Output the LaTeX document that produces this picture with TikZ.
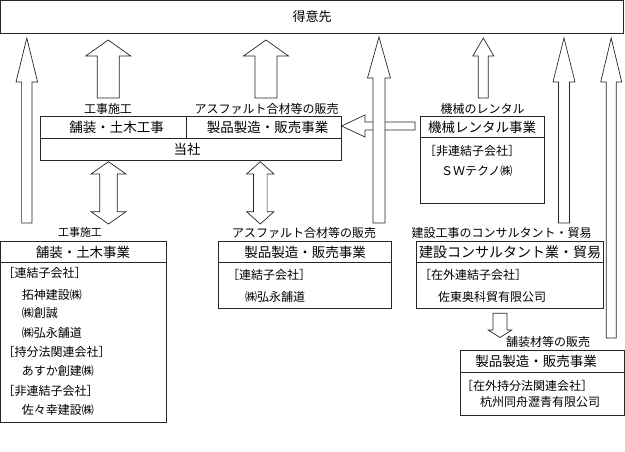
\documentclass[tikz,border=0pt]{standalone}
\usepackage{fontspec}
\setmainfont{Noto Sans CJK JP}
\newcommand\UpArr[6]{% cx, tip y, head base y, bottom y, shaft half, head half
  \draw[arr] (#1-#5,#4) -- (#1-#5,#3) -- (#1-#6,#3) -- (#1,#2) -- (#1+#6,#3) -- (#1+#5,#3) -- (#1+#5,#4) -- cycle;}
\newcommand\DblArr[7]{% cx, top tip, top base, bottom base, bottom tip, shaft half, head half
  \draw[arr] (#1,#2) -- (#1+#7,#3) -- (#1+#6,#3) -- (#1+#6,#4) -- (#1+#7,#4) -- (#1,#5) -- (#1-#7,#4) -- (#1-#6,#4) -- (#1-#6,#3) -- (#1-#7,#3) -- cycle;}
\begin{document}
\begin{tikzpicture}[x=1pt,y=-1pt,
  box/.style={draw=black!85,line width=0.7pt},
  arr/.style={draw=black!85,fill=white,line width=0.7pt},
  hdr/.style={inner sep=0pt,font=\fontsize{13.5}{14}\selectfont},
  lbl/.style={inner sep=0pt,font=\fontsize{12}{13}\selectfont},
  txt/.style={inner sep=0pt,anchor=west,font=\fontsize{12}{13}\selectfont}]
\useasboundingbox (0,0) rectangle (625,452);

% customer
\draw[box] (0.5,0.5) rectangle (623.5,33);
\node[hdr,font=\fontsize{13}{14}\selectfont] (cust) at (312,17) {得意先};

% horizontal arrow from rental box to company box
\draw[arr] (341.5,126) -- (365,115) -- (365,122) -- (415,122) -- (415,130) -- (365,130) -- (365,137) -- cycle;

% long up arrows
\UpArr{26.8}{38}{82}{223}{5.2}{10.8}
\UpArr{379}{37}{78}{223}{6}{11.5}
\UpArr{564}{38}{82}{223}{5.5}{11}
\UpArr{611.2}{38}{82}{338}{5}{10.5}
% wide up arrows
\UpArr{108.2}{40}{56}{98}{11}{22.5}
\UpArr{266}{40}{56}{98}{11}{22.5}
% small up arrow
\UpArr{483.3}{38}{56}{98}{5}{10.5}

% top labels
\node[lbl] (l1) at (108,109) {工事施工};
\node[lbl] (l2) at (266.5,109) {アスファルト合材等の販売};
\node[lbl] (l3) at (482.5,109) {機械のレンタル};

% company box
\draw[box] (40.7,116) rectangle (341,160);
\draw[box] (40.7,138.3) -- (341,138.3);
\draw[box] (186.7,116) -- (186.7,138.3);
\node[hdr] (c1) at (116.7,127) {舗装・土木工事};
\node[hdr] (c2) at (267.5,127) {製品製造・販売事業};
\node[hdr] (c3) at (187,149.5) {当社};

% rental box
\draw[box] (420.7,116) rectangle (544,203);
\draw[box] (420.7,137.7) -- (544,137.7);
\node[hdr] (r1) at (482,127) {機械レンタル事業};
\node[txt] (r2) at (424,151) {［非連結子会社］};
\node[txt] (r3) at (441,171) {ＳＷテクノ㈱};

% double arrows
\DblArr{108.5}{161.7}{174}{211.7}{224}{8.7}{17.5}
\DblArr{260.3}{161.7}{174}{211.7}{224}{6.8}{13.7}

% bottom labels
\node[lbl,font=\fontsize{11}{12}\selectfont] (b1) at (80,232) {工事施工};
\node[lbl] (b2) at (304,233) {アスファルト合材等の販売};
\node[lbl] (b3) at (501.5,233) {建設工事のコンサルタント・貿易};

% left box
\draw[box] (0.7,241) rectangle (166,422);
\draw[box] (0.7,262) -- (166,262);
\node[hdr] (p0) at (83,252) {舗装・土木事業};
\node[txt] (p1) at (2.5,273.3) {［連結子会社］};
\node[txt] (p2) at (21.7,294.7) {拓神建設㈱};
\node[txt] (p3) at (21.7,313.3) {㈱創誠};
\node[txt] (p4) at (21.7,332.7) {㈱弘永舗道};
\node[txt] (p5) at (2.5,352.3) {［持分法関連会社］};
\node[txt] (p6) at (21.7,371) {あすか創建㈱};
\node[txt] (p7) at (2.5,390.7) {［非連結子会社］};
\node[txt] (p8) at (21.7,410) {佐々幸建設㈱};

% middle box
\draw[box] (218,241) rectangle (391,308);
\draw[box] (218,262) -- (391,262);
\node[hdr] (m0) at (305,252) {製品製造・販売事業};
\node[txt] (m1) at (227,275) {［連結子会社］};
\node[txt] (m2) at (245,296.7) {㈱弘永舗道};

% consulting box
\draw[box] (416,241) rectangle (603,308);
\draw[box] (416,262) -- (603,262);
\node[hdr,font=\fontsize{14}{15}\selectfont] (k0) at (510,252) {建設コンサルタント業・貿易};
\node[txt] (k1) at (419,275) {［在外連結子会社］};
\node[txt] (k2) at (438,297) {佐東奥科貿有限公司};

% down arrow
\draw[arr] (493,313.3) -- (493,330) -- (488.3,330) -- (500,337.5) -- (511.7,330) -- (507,330) -- (507,313.3) -- cycle;

\node[lbl] (b4) at (548,342) {舗装材等の販売};

% bottom right box
\draw[box] (460,350) rectangle (624,415);
\draw[box] (460,372) -- (624,372);
\node[hdr] (q0) at (536,361) {製品製造・販売事業};
\node[txt] (q1) at (461,386) {［在外持分法関連会社］};
\node[txt] (q2) at (480,402) {杭州同舟瀝青有限公司};
\end{tikzpicture}
\end{document}
